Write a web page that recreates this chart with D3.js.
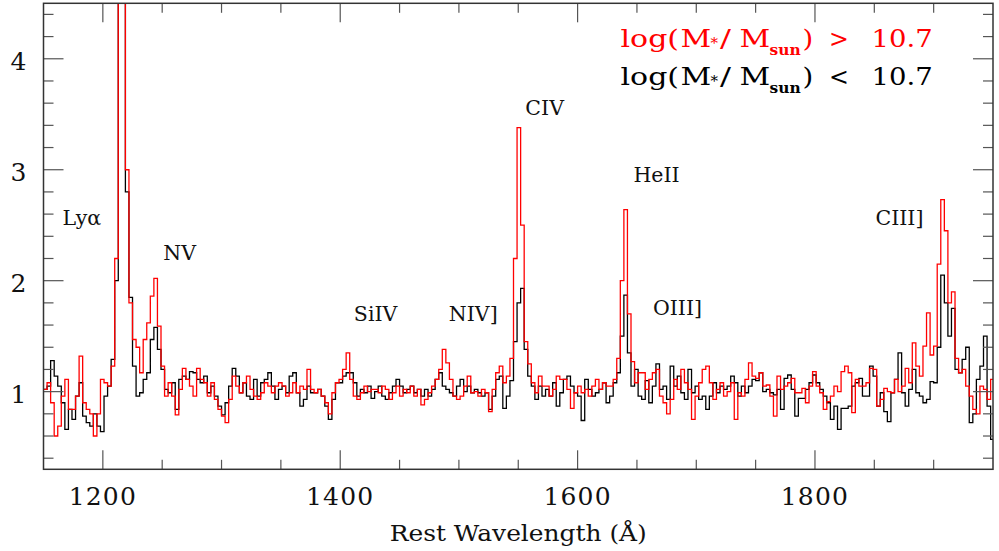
<!DOCTYPE html>
<html>
<head>
<meta charset="utf-8">
<script src="https://cdn.jsdelivr.net/npm/d3@7"></script>
<style>
  html, body { margin: 0; padding: 0; background: #fff; }
  svg { display: block; }
  text { font-family: "DejaVu Serif", serif; }
</style>
</head>
<body>
<svg id="chart" width="999" height="551"></svg>
<script>
// ---------------- DATA ----------------
const waveStart = 1150;      // first bin start (Å)
const waveStep = 3;          // bin width (Å)

// log(M*/Msun) > 10.7  (red)
const fluxHigh = [
  1.02,1.08,0.90,0.60,0.69,0.96,1.11,0.84,0.84,0.96,
  1.32,0.90,0.84,0.80,0.60,0.80,1.11,1.08,1.05,1.23,
  2.20,6.00,6.00,3.00,1.80,1.47,1.40,1.17,1.47,1.62,
  1.86,2.02,1.59,1.23,0.96,1.08,0.96,0.79,1.02,1.21,
  1.11,1.05,0.96,1.21,1.11,1.08,0.96,1.08,0.93,0.84,
  0.78,0.72,0.93,1.14,1.05,0.99,1.08,1.14,1.02,0.96,
  0.93,0.99,1.08,1.05,0.99,1.05,1.08,
  1.05,0.96,0.99,1.08,0.99,1.05,1.02,1.20,1.02,0.99,
  1.02,0.96,0.90,0.80,0.99,1.08,1.11,1.20,1.35,1.11,
  0.96,0.93,0.99,1.05,1.00,1.02,1.02,0.99,1.05,1.02,
  0.93,0.99,1.05,0.96,1.02,0.99,1.05,0.96,1.02,0.88,
  0.93,0.99,1.05,1.11,1.20,1.38,1.26,1.11,0.96,0.93,
  0.96,1.05,1.14,0.99,1.00,0.96,1.02,0.99,0.82,1.02,
  1.17,1.23,1.08,1.14,1.30,2.20,3.38,
  2.50,1.45,1.25,1.08,
  0.99,1.14,1.05,1.05,0.96,1.02,1.14,1.11,1.11,1.02,
  0.85,0.99,1.05,0.99,1.02,0.96,1.05,1.11,1.02,1.08,
  1.05,1.05,1.11,1.30,2.00,2.64,1.70,1.27,1.08,
  1.17,1.17,1.02,1.11,1.17,1.20,0.96,0.90,0.80,0.93,
  1.11,1.02,1.20,1.08,1.02,0.75,0.96,1.08,1.20,1.23,
  1.08,0.93,1.02,1.08,0.96,1.00,1.08,0.75,0.99,0.96,
  1.11,1.26,1.14,
  1.12,1.17,1.05,1.06,0.96,0.78,1.14,1.02,1.05,1.08,
  1.12,0.99,0.99,1.03,0.90,1.05,1.18,1.05,0.99,0.84,
  0.91,0.96,1.05,1.00,1.18,1.23,1.17,0.81,1.11,1.05,
  1.05,1.08,1.21,1.20,0.87,0.93,1.03,1.00,0.99,1.11,
  1.00,1.05,1.21,1.08,1.44,1.23,1.14,1.41,1.71,1.33,
  1.41,2.15,2.73,2.45,1.80,1.90,1.30,1.17,1.20,1.05,
  0.96,0.84,0.80,1.05,1.02,0.93,1.11
];

// log(M*/Msun) < 10.7  (black)
const fluxLow = [
  1.02,1.05,1.28,1.14,1.05,0.90,0.66,0.84,0.75,0.96,
  1.08,0.78,0.72,0.69,0.80,0.69,0.64,0.96,1.05,1.29,
  2.00,5.00,5.50,2.80,1.85,1.23,0.96,0.99,1.11,1.17,
  1.47,1.58,1.38,1.20,1.02,0.99,1.08,0.84,1.11,1.14,
  1.11,1.18,1.17,1.11,1.08,1.14,0.99,1.05,0.96,0.87,
  0.79,0.90,1.05,1.21,1.14,0.99,1.08,0.96,0.93,1.11,
  0.96,1.08,1.11,1.17,1.05,0.93,1.02,
  1.05,0.99,1.14,1.17,0.99,0.87,0.93,1.05,0.99,0.99,
  1.02,0.96,0.87,0.75,0.93,1.08,1.08,1.14,1.17,1.17,
  1.08,0.96,1.02,0.99,1.05,0.94,1.00,1.05,0.96,0.93,
  0.99,1.05,1.11,1.05,0.99,1.02,1.05,0.99,1.02,0.96,
  1.02,0.96,1.02,1.11,1.17,1.05,1.02,0.99,0.96,1.05,
  1.11,1.00,1.05,0.99,1.02,0.99,0.96,0.99,0.84,0.96,
  1.11,1.14,0.85,0.96,1.10,1.45,1.80,
  1.93,1.38,1.14,1.05,
  0.93,1.05,0.96,1.02,0.96,1.08,0.87,0.99,1.11,1.14,
  1.05,0.99,0.96,0.74,1.11,1.02,0.96,0.99,1.02,1.08,
  0.90,0.96,1.08,1.17,1.50,1.87,1.35,1.05,1.20,
  0.96,0.93,1.10,0.90,1.05,1.25,1.02,1.05,0.93,1.23,
  1.05,1.14,0.99,0.93,1.20,0.99,1.05,0.93,0.96,0.84,
  0.96,1.08,0.99,1.05,1.02,1.05,1.14,1.08,0.96,1.05,
  0.99,1.05,1.11,
  1.10,1.17,1.00,1.02,0.99,0.97,1.02,0.84,1.12,1.15,
  1.02,0.78,0.94,0.94,1.02,1.08,1.15,1.08,1.02,0.96,
  0.90,0.75,0.87,0.66,0.85,0.85,0.87,1.05,1.08,1.12,
  0.96,0.96,1.23,1.14,0.87,0.99,0.82,0.73,0.99,1.11,
  1.35,0.99,0.87,1.02,1.20,0.99,0.96,0.90,0.93,1.09,
  1.08,1.40,2.05,1.80,1.50,1.75,1.20,1.17,1.29,1.40,
  0.72,0.80,1.11,1.23,1.50,0.87,0.57
];

const xDomain = [1150, 1950];
const yDomain = [0.3, 4.5];
const xMajorTicks = [1200, 1400, 1600, 1800];
const yMajorTicks = [1, 2, 3, 4];

const lineLabels = ["Lyα", "NV", "SiIV", "NIV]", "CIV", "HeII", "OIII]", "CIII]"];
const lineLabelWave = [1166, 1251, 1411.5, 1491.5, 1556, 1647, 1663.5, 1851];
const lineLabelFlux = [2.50, 2.19, 1.64, 1.64, 3.49, 2.89, 1.69, 2.50];

const legendLabels = ["log(M*/Msun) > 10.7", "log(M*/Msun) < 10.7"];
const xTitle = "Rest Wavelength (Å)";

// ---------------- CHART ----------------
const svg = d3.select("#chart");
const L = 43.5, R = 993, T = 3.3, B = 469.3;

const x = d3.scaleLinear().domain(xDomain).range([L, R]);
const y = d3.scaleLinear().domain(yDomain).range([B, T]);

svg.append("defs").append("clipPath").attr("id", "plotclip")
  .append("rect").attr("x", L).attr("y", T).attr("width", R - L).attr("height", B - T);

function stepPoints(vals) {
  const pts = vals.map((v, i) => [waveStart + i * waveStep, v]);
  pts.push([waveStart + vals.length * waveStep, vals[vals.length - 1]]);
  return pts;
}
const line = d3.line().x(d => x(d[0])).y(d => y(d[1])).curve(d3.curveStepAfter);

const g = svg.append("g").attr("clip-path", "url(#plotclip)");
g.append("path").datum(stepPoints(fluxLow))
  .attr("d", line).attr("fill", "none").attr("stroke", "#000").attr("stroke-width", 1.3);
g.append("path").datum(stepPoints(fluxHigh))
  .attr("d", line).attr("fill", "none").attr("stroke", "#ff0000").attr("stroke-width", 1.3);

// ticks (inward, all four sides)
const tickColor = "#555";
const xMinor = d3.range(1200, 1950, 50).filter(v => !xMajorTicks.includes(v));
const yMinor = d3.range(4, 45, 2).map(v => v / 10).filter(v => !yMajorTicks.includes(v));

const axes = svg.append("g");
function xt(v, len) {
  axes.append("line").attr("x1", x(v)).attr("x2", x(v)).attr("y1", B).attr("y2", B - len)
    .attr("stroke", tickColor).attr("stroke-width", 1.2);
  axes.append("line").attr("x1", x(v)).attr("x2", x(v)).attr("y1", T).attr("y2", T + len)
    .attr("stroke", tickColor).attr("stroke-width", 1.2);
}
function yt(v, len) {
  axes.append("line").attr("x1", L).attr("x2", L + len).attr("y1", y(v)).attr("y2", y(v))
    .attr("stroke", tickColor).attr("stroke-width", 1.2);
  axes.append("line").attr("x1", R).attr("x2", R - len).attr("y1", y(v)).attr("y2", y(v))
    .attr("stroke", tickColor).attr("stroke-width", 1.2);
}
xMinor.forEach(v => xt(v, 9.5));
xMajorTicks.forEach(v => xt(v, 19));
yMinor.forEach(v => yt(v, 10));
yMajorTicks.forEach(v => yt(v, 20));

// frame
svg.append("rect").attr("x", L).attr("y", T).attr("width", R - L).attr("height", B - T)
  .attr("fill", "none").attr("stroke", "#333").attr("stroke-width", 1.5);

// tick labels
svg.append("g").selectAll("text").data(xMajorTicks).join("text")
  .attr("x", d => x(d)).attr("y", 505).attr("text-anchor", "middle")
  .attr("font-size", 25).attr("letter-spacing", 1.2).attr("fill", "#111")
  .text(d => d);
svg.append("g").selectAll("text").data(yMajorTicks).join("text")
  .attr("x", 18.5).attr("y", d => y(d) + 11.5).attr("text-anchor", "middle")
  .attr("font-size", 25).attr("fill", "#111")
  .text(d => d);

// axis title
svg.append("text").attr("x", (L + R) / 2).attr("y", 541).attr("text-anchor", "middle")
  .attr("font-size", 22).attr("fill", "#111")
  .attr("textLength", 257).attr("lengthAdjust", "spacingAndGlyphs")
  .text(xTitle);

// emission line labels
svg.append("g").selectAll("text").data(lineLabels).join("text")
  .attr("x", (d, i) => x(lineLabelWave[i])).attr("y", (d, i) => y(lineLabelFlux[i]))
  .attr("font-size", 20.5).attr("fill", "#111")
  .text(d => d);

// legend: wide lettering imitated with horizontally stretched pieces
const legendColors = ["#ff0000", "#000000"];
const legendBaselines = [47, 85];
legendLabels.forEach((lab, k) => {
  const op = lab.includes(">") ? ">" : "<";
  const yb = legendBaselines[k];
  const lg = svg.append("g").attr("fill", legendColors[k]);
  const pieces = [
    { s: "log(", x: 620.5, dy: 0, fs: 25, sx: 1.2, w: "normal" },
    { s: "M",    x: 680.5, dy: 0, fs: 25, sx: 1.2, w: "normal" },
    { s: "*",    x: 710.5, dy: 1, fs: 15, sx: 1.0, w: "normal" },
    { s: "/",    x: 720,   dy: 0, fs: 25, sx: 1.3, w: "normal" },
    { s: "M",    x: 739.5, dy: 0, fs: 25, sx: 1.2, w: "normal" },
    { s: "sun",  x: 769.5, dy: 8, fs: 15, sx: 1.03, w: "bold" },
    { s: ")",    x: 802.5, dy: 0, fs: 25, sx: 1.1, w: "normal" },
    { s: op,     x: 829,   dy: 0, fs: 25, sx: 0.95, w: "normal" },
    { s: "10.7", x: 871.5, dy: 0, fs: 25, sx: 1.1, w: "normal" }
  ];
  pieces.forEach(p => {
    lg.append("text")
      .attr("transform", `translate(${p.x},${yb + p.dy}) scale(${p.sx},1)`)
      .attr("font-size", p.fs).attr("font-weight", p.w)
      .text(p.s);
  });
});
</script>
</body>
</html>
